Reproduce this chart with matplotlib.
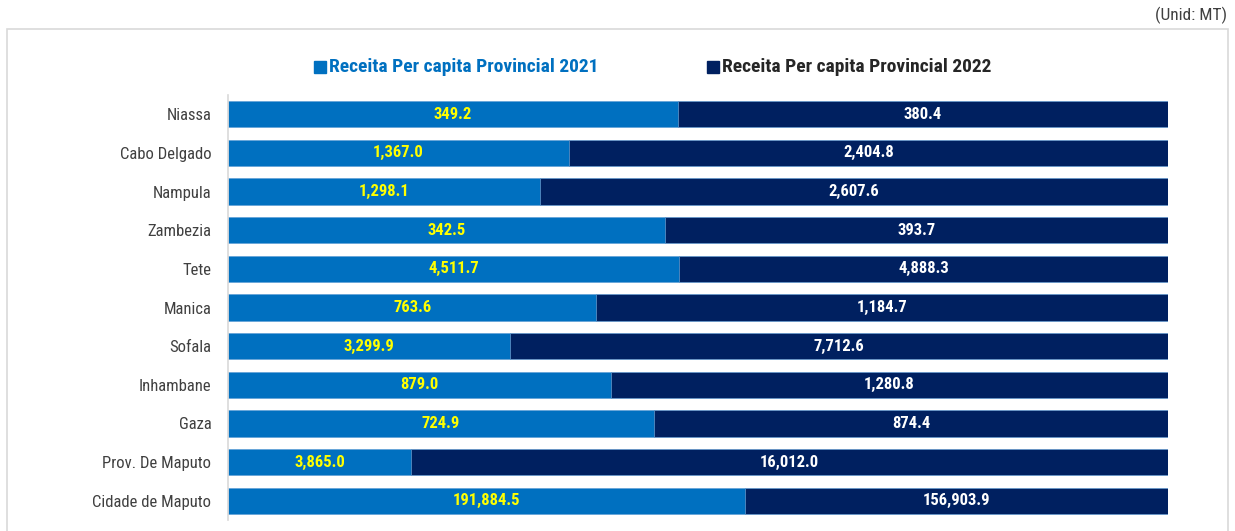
import matplotlib
matplotlib.use("Agg")
import matplotlib.pyplot as plt
from matplotlib.patches import Rectangle
import numpy as np

plt.rcParams['font.family'] = ['Roboto Condensed', 'DejaVu Sans']

provinces = ["Niassa", "Cabo Delgado", "Nampula", "Zambezia", "Tete", "Manica",
             "Sofala", "Inhambane", "Gaza", "Prov. De Maputo", "Cidade de Maputo"]
v2021 = [349.2, 1367.0, 1298.1, 342.5, 4511.7, 763.6, 3299.9, 879.0, 724.9, 3865.0, 191884.5]
v2022 = [380.4, 2404.8, 2607.6, 393.7, 4888.3, 1184.7, 7712.6, 1280.8, 874.4, 16012.0, 156903.9]
series_names = ["Receita Per capita Provincial 2021", "Receita Per capita Provincial 2022"]

c2021 = "#0070C0"
c2022 = "#002060"

a = np.array(v2021)
b = np.array(v2022)
tot = a + b
p21 = a / tot
p22 = b / tot

fig = plt.figure(figsize=(12.35, 5.31), dpi=100)
# outer frame
fig.patches.append(Rectangle((7/1235, -0.01), (1228-7)/1235, 1 - 29/531 + 0.01,
                             transform=fig.transFigure, fill=False,
                             edgecolor="#D9D9D9", linewidth=1.2))
fig.text(1227/1235, 1 - 15/531, "(Unid: MT)", ha="right", va="center",
         fontsize=12.5, color="#404040")

ax = fig.add_axes([228/1235, 1 - 520/531, (1168-228)/1235, (520-95)/531])
y = np.arange(len(provinces))
ax.barh(y, p21, height=0.68, color=c2021, edgecolor="#5B9BD5", linewidth=0.4,
        label=series_names[0])
ax.barh(y, p22, left=p21, height=0.68, color=c2022, edgecolor="#5B9BD5", linewidth=0.4,
        label=series_names[1])

for i in range(len(provinces)):
    ax.text(p21[i] / 2, y[i], f"{v2021[i]:,.1f}", ha="center", va="center",
            color="#FFFF00", fontsize=12, fontweight="bold")
    ax.text(p21[i] + p22[i] / 2, y[i], f"{v2022[i]:,.1f}", ha="center", va="center",
            color="white", fontsize=12, fontweight="bold")

ax.set_xlim(0, 1)
ax.set_ylim(len(provinces) - 0.5, -0.5)
ax.set_yticks(y)
ax.set_yticklabels(provinces, fontsize=12, color="#404040")
ax.tick_params(axis="y", length=0, pad=12)
ax.set_xticks([])
for s in ["top", "right", "bottom"]:
    ax.spines[s].set_visible(False)
ax.spines["left"].set_color("#D9D9D9")
ax.spines["left"].set_linewidth(1.2)

# legend
fig.patches.append(Rectangle((314/1235, 1 - 73/531), 12/1235, 12/531,
                             transform=fig.transFigure, color=c2021))
fig.text(329/1235, 1 - 67/531, series_names[0], ha="left", va="center",
         fontsize=14, fontweight="bold", color=c2021)
fig.patches.append(Rectangle((707/1235, 1 - 73/531), 12/1235, 12/531,
                             transform=fig.transFigure, color=c2022))
fig.text(722/1235, 1 - 67/531, series_names[1], ha="left", va="center",
         fontsize=14, fontweight="bold", color="#262626")

fig.savefig("out.png", dpi=100)
